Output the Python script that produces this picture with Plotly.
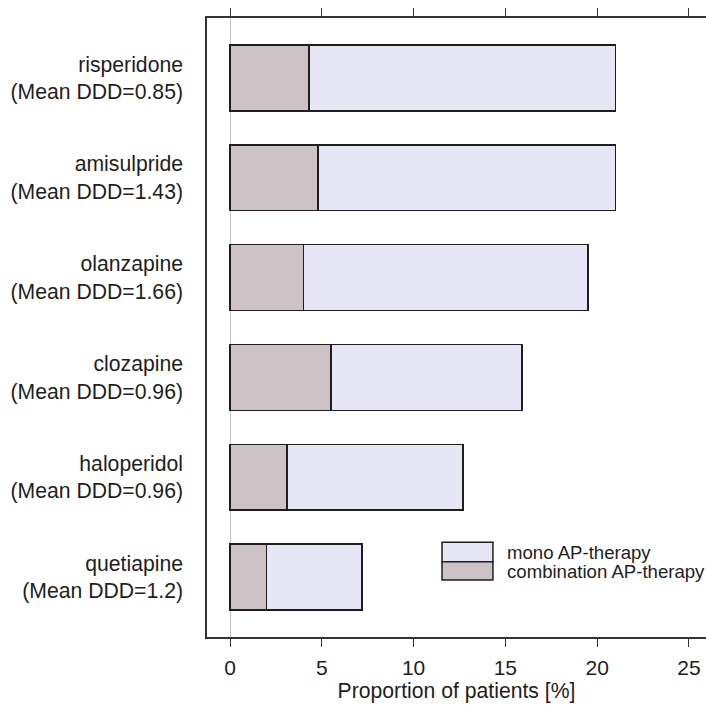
import plotly.graph_objects as go

# Antipsychotics, listed bottom to top
drugs = ["quetiapine", "haloperidol", "clozapine", "olanzapine", "amisulpride", "risperidone"]
mean_ddd = ["1.2", "0.96", "0.96", "1.66", "1.43", "0.85"]

# Proportion of patients [%] for each drug
combination = [2.0, 3.1, 5.5, 4.0, 4.8, 4.3]
mono = [5.2, 9.6, 10.4, 15.5, 16.2, 16.7]

tick_labels = [f"{d}<br>(Mean DDD={m})" for d, m in zip(drugs, mean_ddd)]
positions = list(range(len(drugs)))

COMB_COLOR = "#CDC2C6"
MONO_COLOR = "#E6E6F6"
EDGE = "#1e1e1e"
FONT = "Liberation Sans, Arial, sans-serif"

fig = go.Figure()
fig.add_trace(go.Bar(
    y=positions, x=combination, orientation="h", name="combination AP-therapy",
    marker=dict(color=COMB_COLOR, line=dict(color=EDGE, width=1.5)),
    width=0.66, showlegend=False,
))
fig.add_trace(go.Bar(
    y=positions, x=mono, orientation="h", name="mono AP-therapy",
    marker=dict(color=MONO_COLOR, line=dict(color=EDGE, width=1.5)),
    width=0.66, showlegend=False,
))

# Legend: two stacked swatches with labels
swatches = [("mono AP-therapy", MONO_COLOR, 0.1216, 0.153, 0.137),
            ("combination AP-therapy", COMB_COLOR, 0.092, 0.1216, 0.1066)]
for label, color, y0, y1, ty in swatches:
    fig.add_shape(type="rect", xref="paper", yref="paper",
                  x0=0.471, x1=0.573, y0=y0, y1=y1,
                  fillcolor=color, line=dict(color=EDGE, width=1.5))
    fig.add_annotation(xref="paper", yref="paper", x=0.597, y=ty,
                       text=label, showarrow=False, xanchor="left", yanchor="middle",
                       font=dict(size=18.6, color="#1e1e1e", family=FONT))

fig.update_layout(
    barmode="stack",
    width=706, height=708,
    margin=dict(l=207, r=0, t=18, b=71),
    paper_bgcolor="white", plot_bgcolor="white",
    font=dict(family=FONT, size=21, color="#1e1e1e"),
    xaxis=dict(
        range=[-1.253, 25.93], tickvals=[0, 5, 10, 15, 20, 25],
        ticks="outside", ticklen=8, tickwidth=1.3, tickcolor="#333",
        showline=True, linecolor="#333", linewidth=1.5, mirror="ticks",
        showgrid=False, zeroline=True, zerolinecolor="#c4c4c4", zerolinewidth=1.3,
        title=dict(text="Proportion of patients [%]", font=dict(size=21.2), standoff=4),
        tickfont=dict(size=21), ticklabelstandoff=3,
    ),
    yaxis=dict(
        range=[-0.6, 5.6], tickvals=positions, ticktext=tick_labels,
        ticks="", showline=True, linecolor="#333", linewidth=1.5,
        showgrid=False, zeroline=False, ticklabelstandoff=18,
        tickfont=dict(size=21.2),
    ),
)

fig.write_html("out.html")
